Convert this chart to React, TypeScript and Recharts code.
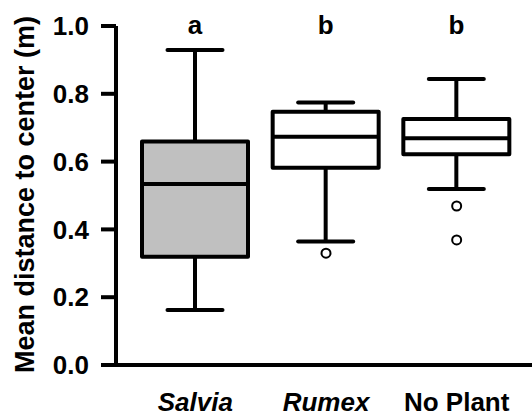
import { ComposedChart, Bar, Line, XAxis, YAxis, Label } from "recharts";

const categories = ["Salvia", "Rumex", "No Plant"];
const italicNames = [true, true, false];
const whiskerLow = [0.162, 0.364, 0.519];
const q1 = [0.319, 0.582, 0.622];
const median = [0.534, 0.673, 0.669];
const q3 = [0.659, 0.747, 0.726];
const whiskerHigh = [0.929, 0.774, 0.844];
const outlier1 = [null, 0.33, 0.469];
const outlier2 = [null, null, 0.369];
const letters = ["a", "b", "b"];
const boxFills = ["#c0c0c0", "#ffffff", "#ffffff"];
const yTicks = [0, 0.2, 0.4, 0.6, 0.8, 1.0];

const data = categories.map((name, i) => ({
  name,
  low: whiskerLow[i],
  q1: q1[i],
  med: median[i],
  q3: q3[i],
  high: whiskerHigh[i],
  out1: outlier1[i],
  out2: outlier2[i],
  letter: letters[i],
  fill: boxFills[i],
  italic: italicNames[i],
}));

const FONT = '"Liberation Sans", Arial, Helvetica, sans-serif';
const LW = 4;

// whole box + whiskers drawn from the range bar's geometry (low..high)
function BoxShape(props: any) {
  const { x, y, width, height, payload } = props;
  const top = Math.min(y, y + height);
  const h = Math.abs(height);
  const { low, high } = payload;
  const toY = (v: number) => top + (h * (high - v)) / (high - low);
  const cx = x + width / 2;
  const capW = 55;
  return (
    <g>
      <line x1={cx} x2={cx} y1={toY(high)} y2={toY(payload.q3)} stroke="#000" strokeWidth={LW} />
      <line x1={cx} x2={cx} y1={toY(payload.q1)} y2={toY(low)} stroke="#000" strokeWidth={LW} />
      <line x1={cx - capW / 2} x2={cx + capW / 2} y1={toY(high)} y2={toY(high)} stroke="#000" strokeWidth={LW} strokeLinecap="round" />
      <line x1={cx - capW / 2} x2={cx + capW / 2} y1={toY(low)} y2={toY(low)} stroke="#000" strokeWidth={LW} strokeLinecap="round" />
      <rect
        x={x}
        y={toY(payload.q3)}
        width={width}
        height={toY(payload.q1) - toY(payload.q3)}
        fill={payload.fill}
        stroke="#000"
        strokeWidth={LW}
        strokeLinejoin="round"
      />
      <line x1={x} x2={x + width} y1={toY(payload.med)} y2={toY(payload.med)} stroke="#000" strokeWidth={LW} />
      <text
        x={cx}
        y={toY(1.0) + 8}
        textAnchor="middle"
        fontFamily={FONT}
        fontWeight="bold"
        fontSize={26}
        fill="#000"
      >
        {payload.letter}
      </text>
    </g>
  );
}

function OutlierDot(props: any) {
  const { cx, cy, value, index, dataKey } = props;
  if (value == null || cy == null) return <g key={`${dataKey}-${index}`} />;
  return <circle key={`${dataKey}-${index}`} cx={cx} cy={cy} r={4.5} fill="#fff" stroke="#000" strokeWidth={2} />;
}

function XTick(props: any) {
  const { x, y, payload, index } = props;
  return (
    <text
      x={x}
      y={y}
      dy="0.72em"
      textAnchor="middle"
      fontFamily={FONT}
      fontWeight="bold"
      fontStyle={data[index]?.italic ? "italic" : "normal"}
      fontSize={26}
      fill="#000"
    >
      {payload.value}
    </text>
  );
}

function YLabel(props: any) {
  const vb = props.viewBox || { x: 0, y: 26, width: 116, height: 339 };
  const cx = vb.x + 25;
  const cy = vb.y + vb.height / 2 - 1;
  return (
    <text
      x={cx}
      y={cy}
      transform={`rotate(-90, ${cx}, ${cy})`}
      textAnchor="middle"
      dominantBaseline="central"
      fontFamily={FONT}
      fontWeight="bold"
      fontSize={27}
      fill="#000"
    >
      Mean distance to center (m)
    </text>
  );
}

export default function App() {
  return (
    <div style={{ position: "absolute", left: 0, top: 0, background: "#fff" }}>
      <ComposedChart
        width={532}
        height={417}
        data={data}
        margin={{ top: 26, right: 0, bottom: 0, left: 0 }}
      >
        <XAxis
          dataKey="name"
          height={52}
          padding={{ left: 14, right: 10 }}
          axisLine={{ stroke: "#000", strokeWidth: LW }}
          tickLine={false}
          tickSize={6}
          tickMargin={21}
          tick={<XTick />}
          interval={0}
        />
        <YAxis
          width={116}
          domain={[0, 1]}
          ticks={yTicks}
          tickFormatter={(v: number) => v.toFixed(1)}
          axisLine={{ stroke: "#000", strokeWidth: LW }}
          tickLine={{ stroke: "#000", strokeWidth: LW }}
          tickSize={15}
          tickMargin={12}
          tick={{ fill: "#000", fontSize: 26, fontWeight: "bold", fontFamily: FONT }}
        >
          <Label content={<YLabel />} />
        </YAxis>
        <Bar
          dataKey={(d: any) => [d.low, d.high]}
          barSize={106}
          shape={<BoxShape />}
          isAnimationActive={false}
        />
        <Line dataKey="out1" stroke="none" dot={<OutlierDot />} activeDot={false} isAnimationActive={false} />
        <Line dataKey="out2" stroke="none" dot={<OutlierDot />} activeDot={false} isAnimationActive={false} />
      </ComposedChart>
    </div>
  );
}
